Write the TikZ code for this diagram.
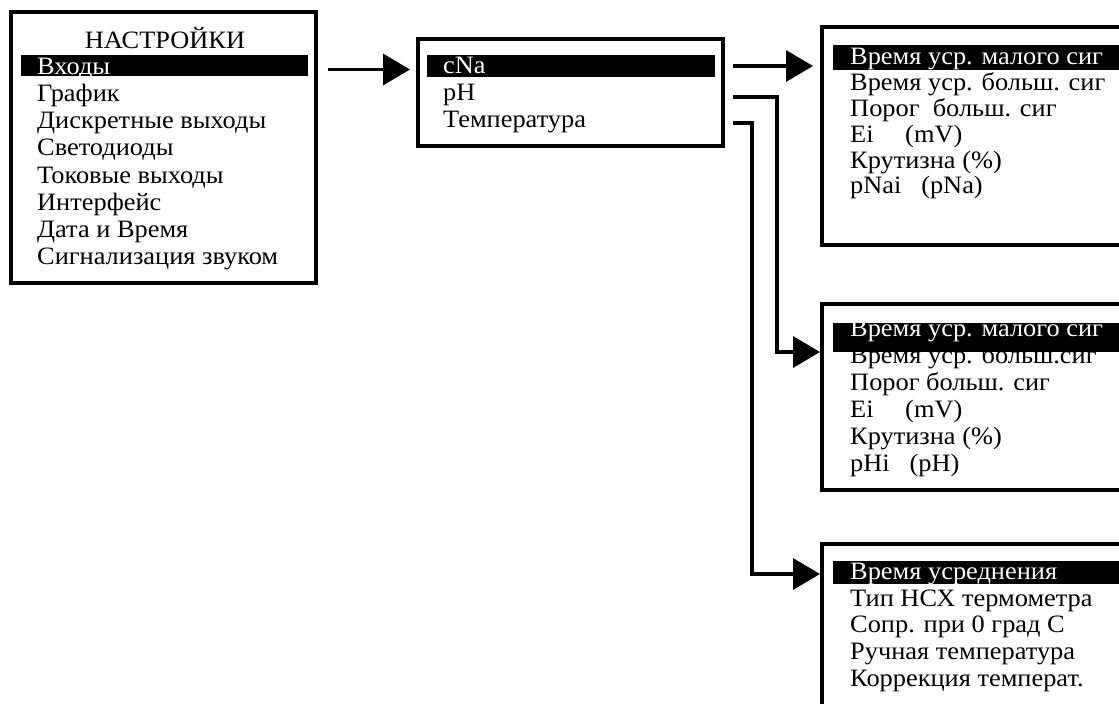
\documentclass[tikz,border=0pt]{standalone}
\usepackage{fontspec}
\setmainfont[FakeStretch=1.055]{Liberation Serif}
\usetikzlibrary{arrows.meta,calc}

\tikzset{
  menubox/.style={draw, line width=4pt, anchor=north west, inner sep=0pt},
  selbar/.style={fill=black, anchor=north west, inner sep=0pt, outer sep=0pt},
  item/.style={anchor=base west, inner sep=0pt},
  selitem/.style={item, text=white},
  link/.style={line width=3.5pt, -{Triangle[length=27pt,width=31pt]}},
}

\begin{document}
\begin{tikzpicture}[x=1pt, y=-1pt, font=\fontsize{25}{27}\selectfont]
\useasboundingbox (0,0) rectangle (1119,704);
\clip (0,0) rectangle (1119,704);

% main settings menu
\node[menubox, minimum width=305pt, minimum height=271pt] (settings) at (9,10) {};
\node[selbar, minimum width=287pt, minimum height=21pt] (sbar) at (21,55) {};
\node[anchor=base, inner sep=0pt] (s0) at (165,48) {НАСТРОЙКИ};
\node[selitem] (s1) at (37,74) {Входы};
\node[item] (s2) at (37,101) {График};
\node[item] (s3) at (37,128) {Дискретные выходы};
\node[item] (s4) at (37,155) {Светодиоды};
\node[item] (s5) at (37,183) {Токовые выходы};
\node[item] (s6) at (37,210) {Интерфейс};
\node[item] (s7) at (37,237) {Дата и Время};
\node[item] (s8) at (37,264) {Сигнализация звуком};

% inputs menu
\node[menubox, minimum width=305pt, minimum height=107pt] (inputs) at (416,37) {};
\node[selbar, minimum width=288pt, minimum height=22pt] (ibar) at (427,55) {};
\node[selitem] (i1) at (443,73) {cNa};
\node[item] (i2) at (443,100) {pH};
\node[item] (i3) at (443,127) {Температура};

% cNa channel menu
\node[menubox, minimum width=400pt, minimum height=218pt] (na) at (820,25) {};
\node[selbar, minimum width=400pt, minimum height=25pt] (nbar) at (833,45) {};
\node[selitem] (n1) at (850,64) {Время уср. малого сиг};
\node[item] (n2) at (850,90) {Время уср. больш. сиг};
\node[item] (n3) at (850,116) {Порог\ \ больш. сиг};
\node[item] (n4) at (850,142) {Ei\quad\ (mV)};
\node[item] (n5) at (850,168) {Крутизна (\%)};
\node[item] (n6) at (850,193) {pNai\ \ \ (pNa)};

% pH channel menu
\node[menubox, minimum width=400pt, minimum height=186pt] (ph) at (820,302) {};
\node[selbar, minimum width=400pt, minimum height=29pt] (pbar) at (833,323) {};
\node[selitem] (p1) at (850,336) {Время уср. малого сиг};
\node[item] (p2) at (850,363) {Время уср. больш.сиг};
\node[item] (p3) at (850,390) {Порог больш. сиг};
\node[item] (p4) at (850,417) {Ei\quad\ (mV)};
\node[item] (p5) at (850,444) {Крутизна (\%)};
\node[item] (p6) at (850,471) {pHi\ \ \ (pH)};

% temperature menu
\node[menubox, minimum width=400pt, minimum height=300pt] (temp) at (820,542) {};
\node[selbar, minimum width=400pt, minimum height=23pt] (tbar) at (833,561) {};
\node[selitem] (t1) at (850,579) {Время усреднения};
\node[item] (t2) at (850,606) {Тип НСХ термометра};
\node[item] (t3) at (850,632) {Сопр. при 0 град С};
\node[item] (t4) at (850,659) {Ручная температура};
\node[item] (t5) at (850,686) {Коррекция температ.};

% links between menus
\draw[link, shorten <=10pt, shorten >=6pt] ($(settings.east |- sbar)+(0,4)$) -- ($(inputs.west |- sbar)+(0,4)$);
\draw[link, shorten <=8pt, shorten >=7pt] (inputs.east |- ibar) -- (na.west |- ibar);
\draw[link, shorten <=8pt] ($(inputs.east |- i2.base)+(0,-3)$) -- ++(52,0) |- (ph.west |- pbar.south);
\draw[link, shorten <=8pt] ($(inputs.east |- i3.base)+(0,-4)$) -- ++(27,0) |- ($(temp.west |- tbar)+(0,1.5)$);
\end{tikzpicture}
\end{document}
